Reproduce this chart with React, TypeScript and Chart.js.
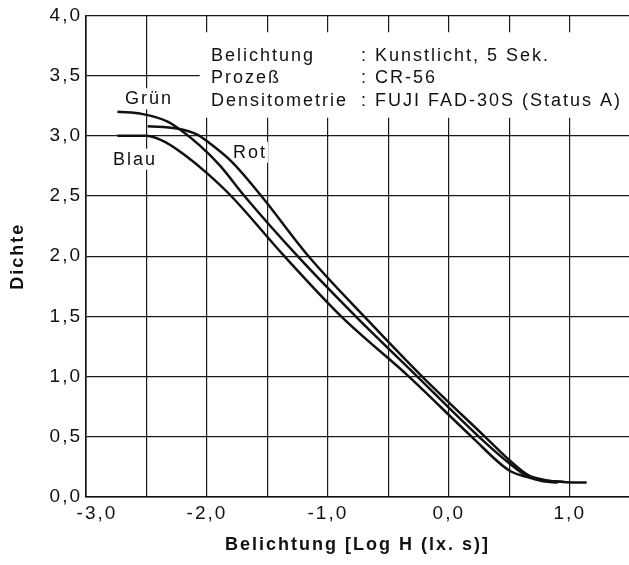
import React, { useEffect, useRef } from "react";
import { Chart, registerables } from "chart.js";

Chart.register(...registerables);

// ---- data ----
const blauX = [-2.74, -2.5, -2.33, -2.17, -2.0, -1.8, -1.36, -0.89, -0.33, 0.19, 0.5, 0.67, 0.78, 0.9];
const blauY = [3.0, 3.0, 2.94, 2.83, 2.69, 2.5, 2.0, 1.5, 1.0, 0.5, 0.22, 0.16, 0.13, 0.12];

const gruenX = [-2.74, -2.53, -2.33, -2.22, -2.06, -1.89, -1.69, -1.25, -0.77, -0.26, 0.25, 0.5, 0.64, 0.78, 0.95];
const gruenY = [3.2, 3.18, 3.12, 3.05, 2.92, 2.75, 2.5, 2.0, 1.5, 1.0, 0.5, 0.28, 0.18, 0.14, 0.125];

const rotX = [-2.49, -2.25, -2.08, -1.98, -1.79, -1.55, -1.16, -0.7, -0.22, 0.3, 0.53, 0.66, 0.8, 0.95, 1.14];
const rotY = [3.08, 3.06, 3.01, 2.94, 2.78, 2.5, 2.0, 1.5, 1.0, 0.5, 0.28, 0.18, 0.14, 0.125, 0.12];

const xMin = -3.0;
const xMax = 1.49;
const yMin = 0;
const yMax = 4.0;
const tickStep = 0.5;

const yTitle = "Dichte";
const xTitle = "Belichtung [Log H (lx. s)]";

const curveLabels = ["Grün", "Blau", "Rot"];
const curveLabelX = [-2.678, -2.777, -1.785];
const curveLabelY = [3.262, 2.76, 2.817];

const infoKeys = ["Belichtung", "Prozeß", "Densitometrie"];
const infoValues = ["Kunstlicht, 5 Sek.", "CR-56", "FUJI FAD-30S (Status A)"];
const infoBaselineY = [3.624, 3.435, 3.245];
const infoKeyX = -1.967;
const infoColonX = -0.727;
const infoBoxLeft = -2.06;
const infoBoxTop = 3.86;
const infoBoxBottom = 3.15;

// ---- styles ----
const FONT = '"Liberation Sans", Arial, Helvetica, sans-serif';
const SPACING = "2px";
const INK = "#111";

const toPts = (xs: number[], ys: number[]) => xs.map((x, i) => ({ x, y: ys[i] }));
const fmt = (v: number) => (Math.round(v * 10) / 10).toFixed(1).replace(".", ",");

const annotPlugin = {
  id: "annot",
  beforeUpdate(chart: any) {
    chart.ctx.letterSpacing = SPACING;
  },
  beforeDraw(chart: any) {
    chart.ctx.letterSpacing = SPACING;
  },
  beforeDatasetsDraw(chart: any) {
    const { ctx, chartArea } = chart;
    const xs = chart.scales.x;
    const ys = chart.scales.y;
    ctx.save();
    ctx.letterSpacing = SPACING;
    ctx.font = `18px ${FONT}`;
    ctx.textBaseline = "alphabetic";
    ctx.textAlign = "left";

    // info box background
    const bx = xs.getPixelForValue(infoBoxLeft);
    const bt = ys.getPixelForValue(infoBoxTop);
    const bb = ys.getPixelForValue(infoBoxBottom);
    ctx.fillStyle = "#fff";
    ctx.fillRect(bx, bt, chartArea.right - bx + 4, bb - bt);

    // curve label backgrounds
    curveLabels.forEach((t, i) => {
      const px = xs.getPixelForValue(curveLabelX[i]);
      const py = ys.getPixelForValue(curveLabelY[i]);
      const w = ctx.measureText(t).width;
      ctx.fillRect(px - 3, py - 16, w + 4, 21);
    });

    ctx.fillStyle = INK;
    curveLabels.forEach((t, i) => {
      ctx.fillText(t, xs.getPixelForValue(curveLabelX[i]), ys.getPixelForValue(curveLabelY[i]));
    });

    const kx = xs.getPixelForValue(infoKeyX);
    const cx = xs.getPixelForValue(infoColonX);
    infoKeys.forEach((k, i) => {
      const py = ys.getPixelForValue(infoBaselineY[i]);
      ctx.fillText(k, kx, py);
      ctx.fillText(": " + infoValues[i], cx, py);
    });
    ctx.restore();
  },
};

export default function App() {
  const ref = useRef<HTMLCanvasElement | null>(null);

  useEffect(() => {
    if (!ref.current) return;
    const lineStyle = {
      borderColor: INK,
      borderWidth: 2.5,
      pointRadius: 0,
      fill: false,
      cubicInterpolationMode: "monotone" as const,
    };
    const chart = new Chart(ref.current, {
      type: "line",
      data: {
        datasets: [
          { label: "Blau", data: toPts(blauX, blauY), ...lineStyle },
          { label: "Grün", data: toPts(gruenX, gruenY), ...lineStyle },
          { label: "Rot", data: toPts(rotX, rotY), ...lineStyle },
        ],
      },
      options: {
        animation: false,
        responsive: false,
        devicePixelRatio: 1,
        events: [],
        layout: { padding: { top: 11, right: 0, left: 0, bottom: 0 } },
        plugins: {
          legend: { display: false },
          tooltip: { enabled: false },
        },
        scales: {
          x: {
            type: "linear",
            min: xMin,
            max: xMax,
            afterBuildTicks: (s: any) => {
              s.ticks = s.ticks.filter(
                (t: any) => Math.abs(t.value / tickStep - Math.round(t.value / tickStep)) < 1e-6
              );
            },
            afterFit: (s: any) => {
              s.height = 68;
            },
            ticks: {
              stepSize: tickStep,
              includeBounds: false,
              autoSkip: false,
              maxRotation: 0,
              minRotation: 0,
              padding: 5,
              color: INK,
              font: { family: FONT, size: 19 },
              callback: (v: any) => {
                if (Math.abs(v - Math.round(v)) > 1e-6) return "";
                return Math.abs(v - xMin) < 1e-6 ? "   " + fmt(v) : fmt(v);
              },
            },
            grid: { color: "#1a1a1a", lineWidth: 1.2, drawTicks: false },
            border: { color: INK, width: 1.6 },
            title: {
              display: true,
              text: xTitle,
              color: INK,
              font: { family: FONT, size: 18, weight: "bold" },
              padding: { top: 0, bottom: 9 },
            },
          },
          y: {
            type: "linear",
            min: yMin,
            max: yMax,
            afterFit: (s: any) => {
              s.width = 86;
            },
            ticks: {
              stepSize: tickStep,
              padding: 4,
              color: INK,
              font: { family: FONT, size: 19 },
              callback: (v: any) => fmt(v),
            },
            grid: { color: "#1a1a1a", lineWidth: 1.2, drawTicks: false },
            border: { color: INK, width: 1.6 },
            title: {
              display: true,
              text: yTitle,
              color: INK,
              font: { family: FONT, size: 18, weight: "bold" },
              padding: { top: 7, bottom: 0 },
            },
          },
        },
      },
      plugins: [annotPlugin],
    } as any);
    return () => chart.destroy();
  }, []);

  return (
    <div style={{ position: "absolute", left: 0, top: 0, width: 629, height: 565, background: "#fff" }}>
      <canvas ref={ref} width={629} height={565} style={{ display: "block" }} />
    </div>
  );
}
